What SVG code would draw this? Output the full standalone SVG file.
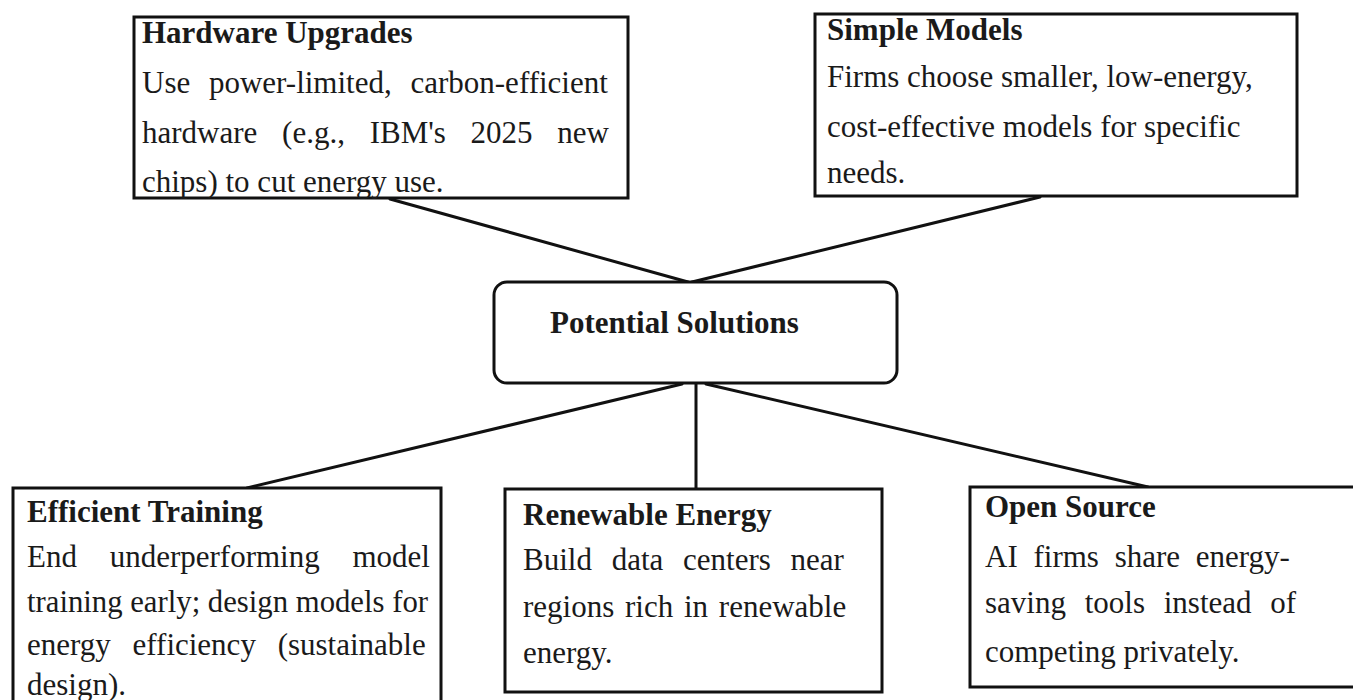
<svg xmlns="http://www.w3.org/2000/svg" width="1353" height="700" viewBox="0 0 1353 700">
<style>
.box{fill:#ffffff;stroke:#111111;stroke-width:3}
.conn{stroke:#111111;stroke-width:3;fill:none;stroke-linecap:round}
.t{font-family:"Liberation Serif","Times New Roman",serif;font-size:31px;fill:#1a1a1a}
.h{font-weight:bold}
</style>
<rect width="1353" height="700" fill="#ffffff"/>
<g id="connectors">
<line class="conn" x1="390" y1="199" x2="688" y2="282"/>
<line class="conn" x1="1040" y1="197" x2="692" y2="282"/>
<line class="conn" x1="682" y1="384" x2="247" y2="488"/>
<line class="conn" x1="696" y1="384" x2="696" y2="489"/>
<line class="conn" x1="706" y1="384" x2="1148" y2="487"/>
</g>
<g id="hardware">
<rect class="box" x="134" y="17" width="494" height="181"/>
<text class="t h" x="142" y="43">Hardware Upgrades</text>
<text class="t" x="142" y="93" word-spacing="11">Use power-limited, carbon-efficient</text>
<text class="t" x="142" y="143" word-spacing="17">hardware (e.g., IBM's 2025 new</text>
<text class="t" x="142" y="192">chips) to cut energy use.</text>
</g>
<g id="simple">
<rect class="box" x="815" y="14" width="482" height="182"/>
<text class="t h" x="827" y="40">Simple Models</text>
<text class="t" x="827" y="87">Firms choose smaller, low-energy,</text>
<text class="t" x="827" y="137">cost-effective models for specific</text>
<text class="t" x="827" y="183">needs.</text>
</g>
<g id="center">
<rect class="box" x="494" y="282" width="403" height="101" rx="13" ry="13"/>
<text class="t h" x="550" y="333">Potential Solutions</text>
</g>
<g id="efficient">
<rect class="box" x="13" y="488" width="428" height="222"/>
<text class="t h" x="27" y="522">Efficient Training</text>
<text class="t" x="27" y="567" word-spacing="25">End underperforming model</text>
<text class="t" x="27" y="612" textLength="401" lengthAdjust="spacingAndGlyphs">training early; design models for</text>
<text class="t" x="27" y="655" word-spacing="14">energy efficiency (sustainable</text>
<text class="t" x="27" y="695">design).</text>
</g>
<g id="renewable">
<rect class="box" x="505" y="489" width="377" height="203"/>
<text class="t h" x="523" y="525">Renewable Energy</text>
<text class="t" x="523" y="570" word-spacing="12">Build data centers near</text>
<text class="t" x="523" y="617" word-spacing="3">regions rich in renewable</text>
<text class="t" x="523" y="663">energy.</text>
</g>
<g id="opensource">
<rect class="box" x="970" y="487" width="390" height="200"/>
<text class="t h" x="985" y="517">Open Source</text>
<text class="t" x="985" y="567" word-spacing="8">AI firms share energy-</text>
<text class="t" x="985" y="613" word-spacing="11">saving tools instead of</text>
<text class="t" x="985" y="662">competing privately.</text>
</g>
</svg>
